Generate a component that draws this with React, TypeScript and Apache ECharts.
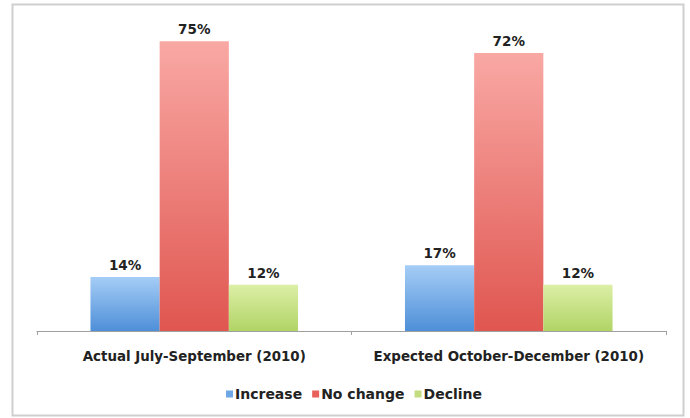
import React, { useEffect, useRef } from "react";
import * as echarts from "echarts";

const categories = ["Actual July-September (2010)", "Expected October-December (2010)"];
const seriesNames = ["Increase", "No change", "Decline"];
const increaseValues = [14, 17];
const noChangeValues = [75, 72];
const declineValues = [12, 12];

const grad = (top: string, bottom: string) =>
  new echarts.graphic.LinearGradient(0, 0, 0, 1, [
    { offset: 0, color: top },
    { offset: 1, color: bottom },
  ]);

export default function App() {
  const ref = useRef<HTMLDivElement>(null);
  useEffect(() => {
    if (!ref.current) return;
    const chart = echarts.init(ref.current, null, { renderer: "svg" });
    const font = "'DejaVu Sans', sans-serif";
    const label = {
      show: true,
      position: "top" as const,
      distance: 5,
      formatter: "{c}%",
      color: "#222",
      fontFamily: font,
      fontWeight: "bold" as const,
      fontSize: 13.5,
    };
    const legendColors = ["#6fa6e6", "#e8605a", "#c3dc80"];
    chart.setOption({
      animation: false,
      backgroundColor: "#ffffff",
      graphic: [
        {
          type: "rect",
          shape: { x: 12.5, y: 4.5, width: 671, height: 411 },
          style: { fill: "none", stroke: "#cfcfcf", lineWidth: 2 },
          silent: true,
        },
      ],
      grid: { left: 37, right: 24, top: 22, bottom: 87 },
      legend: {
        bottom: 12,
        left: 221,
        itemWidth: 7,
        itemHeight: 7,
        itemGap: 10,
        icon: "rect",
        textStyle: { fontFamily: font, fontSize: 14, fontWeight: "bold", color: "#222", padding: [0, 0, 0, -3] },
        data: seriesNames.map((n, i) => ({ name: n, itemStyle: { color: legendColors[i] } })),
      },
      xAxis: {
        type: "category",
        data: categories,
        axisLine: { lineStyle: { color: "#a0a0a0", width: 1 } },
        axisTick: { show: true, length: 4, lineStyle: { color: "#a0a0a0" } },
        axisLabel: {
          interval: 0,
          margin: 19,
          color: "#222",
          fontFamily: font,
          fontWeight: "bold",
          fontSize: 13.4,
        },
      },
      yAxis: {
        type: "value",
        min: 0,
        max: 80,
        show: false,
        splitLine: { show: false },
      },
      series: [
        {
          name: seriesNames[0],
          type: "bar",
          data: increaseValues,
          barGap: "0%",
          barCategoryGap: "34%",
          itemStyle: { color: grad("#a5cdf6", "#4e8fd8") },
          label,
        },
        {
          name: seriesNames[1],
          type: "bar",
          data: noChangeValues,
          itemStyle: { color: grad("#f9a8a4", "#e05650") },
          label,
        },
        {
          name: seriesNames[2],
          type: "bar",
          data: declineValues,
          itemStyle: { color: grad("#dcefa6", "#b1d466") },
          label,
        },
      ],
    });
    return () => chart.dispose();
  }, []);
  return (
    <div
      ref={ref}
      style={{ position: "fixed", left: 0, top: 0, width: 690, height: 418 }}
    />
  );
}
